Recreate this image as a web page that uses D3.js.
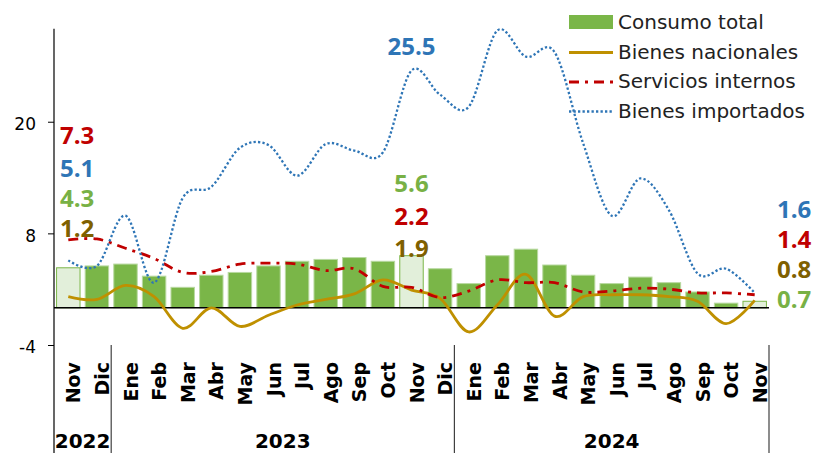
<!DOCTYPE html>
<html lang="es">
<head>
<meta charset="utf-8">
<title>Consumo privado</title>
<script src="https://d3js.org/d3.v7.min.js"></script>
<style>
  body { margin: 0; background: #fff; }
  svg { display: block; font-family: "DejaVu Sans", sans-serif; }
</style>
</head>
<body>
<div id="chart"></div>
<script>
// categories
const months = ["Nov","Dic","Ene","Feb","Mar","Abr","May","Jun","Jul","Ago","Sep","Oct",
                "Nov","Dic","Ene","Feb","Mar","Abr","May","Jun","Jul","Ago","Sep","Oct","Nov"];
const yearLabels = ["2022", "2023", "2024"];
const yearFirst = [0, 2, 14];          // first month index of each year
const yTicks = [-4, 8, 20];

// series values
const consumo    = [4.3,4.5,4.7,3.4,2.2,3.5,3.8,4.5,5.0,5.2,5.4,5.0,5.6,4.2,2.6,5.6,6.3,4.6,3.5,2.6,3.3,2.7,1.7,0.5,0.7];
const nacionales = [1.2,0.9,2.4,1.2,-2.2,0.0,-2.0,-0.8,0.3,0.9,1.5,3.0,1.9,1.0,-2.6,0.3,3.6,-0.9,1.2,1.4,1.4,1.2,0.7,-1.7,0.8];
const servicios  = [7.3,7.4,6.4,5.3,3.8,3.9,4.7,4.8,4.7,4.0,4.2,2.3,2.2,1.1,1.8,3.0,2.7,2.7,1.7,1.8,2.1,2.0,1.6,1.6,1.4];
const importados = [5.1,4.5,9.9,2.7,11.8,13.0,17.2,17.5,14.2,17.6,16.9,16.7,25.5,22.9,21.6,29.8,27.0,27.5,17.7,9.9,13.9,10.5,3.7,4.2,1.6];
const highlight = [0, 12, 24];         // months drawn with pale bars and labelled

const W = 813, H = 453;
const mLeft = 54, mRight = 769, mTop = 28.7, mBottom = 345;

const svg = d3.select("#chart").append("svg")
  .attr("width", W).attr("height", H);

const x = d3.scaleBand()
  .domain(d3.range(months.length))
  .range([mLeft, mRight])
  .paddingInner(0.18)
  .paddingOuter(0.09);
const y = d3.scaleLinear().domain([-4, 30]).range([mBottom, mTop]);
const step = x.step();
const cx = i => x(i) + x.bandwidth() / 2;

const green = "#7ab648", gold = "#bf9000", red = "#c00000", blue = "#2e75b6";

// bars
svg.append("g").selectAll("rect")
  .data(consumo)
  .join("rect")
  .attr("x", (d, i) => x(i))
  .attr("width", x.bandwidth())
  .attr("y", d => y(Math.max(d, 0)))
  .attr("height", d => Math.abs(y(d) - y(0)))
  .attr("fill", (d, i) => highlight.includes(i) ? "#e2efda" : green)
  .attr("stroke", (d, i) => highlight.includes(i) ? green : "#b9d9a1")
  .attr("stroke-width", 1);

// zero line
svg.append("line")
  .attr("x1", mLeft).attr("x2", mRight)
  .attr("y1", y(0)).attr("y2", y(0))
  .attr("stroke", "#000").attr("stroke-width", 1.4);

// lines
const line = d3.line()
  .x((d, i) => cx(i))
  .y(d => y(d))
  .curve(d3.curveCardinal.tension(0));

svg.append("path").datum(nacionales)
  .attr("d", line).attr("fill", "none")
  .attr("stroke", gold).attr("stroke-width", 2.8);

svg.append("path").datum(servicios)
  .attr("d", line).attr("fill", "none")
  .attr("stroke", red).attr("stroke-width", 2.8)
  .attr("stroke-dasharray", "10,6,3,6");

svg.append("path").datum(importados)
  .attr("d", line).attr("fill", "none")
  .attr("stroke", blue).attr("stroke-width", 2.3)
  .attr("stroke-dasharray", "2.3,2.2");

// y axis (plain hyphen for negatives, as in the original)
const yAxis = d3.axisLeft(y).tickValues(yTicks).tickSize(6).tickSizeOuter(0)
  .tickFormat(d => String(d));
const gy = svg.append("g").attr("transform", `translate(${mLeft},0)`).call(yAxis);
gy.select(".domain").remove();
gy.selectAll(".tick line").attr("stroke", "#000");
gy.selectAll(".tick text")
  .attr("x", -18).attr("dy", "0.45em")
  .attr("font-family", "DejaVu Sans").attr("font-size", 17).attr("fill", "#000");

svg.append("line")
  .attr("x1", mLeft).attr("x2", mLeft)
  .attr("y1", mTop).attr("y2", H)
  .attr("stroke", "#000").attr("stroke-width", 1.2);

// month labels
svg.append("g").selectAll("text")
  .data(months)
  .join("text")
  .attr("transform", (d, i) => `translate(${cx(i) + 12},362) rotate(-90)`)
  .attr("text-anchor", "end")
  .attr("font-weight", "bold")
  .attr("font-size", 19)
  .text(d => d);

// year groups
const bounds = yearFirst.map(i => cx(i) - step / 2).concat([mRight]);
svg.append("g").selectAll("line")
  .data(bounds.slice(1))
  .join("line")
  .attr("x1", d => d).attr("x2", d => d)
  .attr("y1", mBottom).attr("y2", H)
  .attr("stroke", "#404040").attr("stroke-width", 1.2);

svg.append("g").selectAll("text")
  .data(yearLabels)
  .join("text")
  .attr("x", (d, i) => (bounds[i] + bounds[i + 1]) / 2)
  .attr("y", 448)
  .attr("text-anchor", "middle")
  .attr("font-weight", "bold")
  .attr("font-size", 20)
  .text(d => d);

// value labels
const labelColor = { consumo: "#78b145", nacionales: "#7f6000", servicios: red, importados: blue };
const values = { consumo, nacionales, servicios, importados };
const fmt = d3.format(".1f");
const labelStacks = [
  { i: 0,  x: 60,  anchor: "start",  rows: [["servicios", 144], ["importados", 177], ["consumo", 207], ["nacionales", 237]] },
  { i: 12, x: cx(12), anchor: "middle", rows: [["importados", 55], ["consumo", 192], ["servicios", 225], ["nacionales", 257]] },
  { i: 24, x: 777, anchor: "start",  rows: [["importados", 218], ["servicios", 248], ["nacionales", 278], ["consumo", 308]] }
];
const lab = svg.append("g")
  .attr("font-family", "'Open Sans', sans-serif")
  .attr("font-weight", "bold")
  .attr("font-size", 24);
labelStacks.forEach(s => {
  s.rows.forEach(([key, by]) => {
    lab.append("text")
      .attr("x", s.x).attr("y", by)
      .attr("text-anchor", s.anchor)
      .attr("fill", labelColor[key])
      .text(fmt(values[key][s.i]));
  });
});

// legend
const legend = [
  { name: "Consumo total", type: "rect" },
  { name: "Bienes nacionales", type: "line", color: gold, width: 2.8, dash: null },
  { name: "Servicios internos", type: "line", color: red, width: 2.8, dash: "10,6,3,6" },
  { name: "Bienes importados", type: "line", color: blue, width: 2.3, dash: "2.3,2.2" }
];
const lg = svg.append("g");
legend.forEach((d, k) => {
  const by = 29 + k * 29.5;
  if (d.type === "rect") {
    lg.append("rect").attr("x", 569).attr("y", by - 14).attr("width", 44).attr("height", 14)
      .attr("fill", green);
  } else {
    lg.append("line").attr("x1", 569).attr("x2", 613).attr("y1", by - 6).attr("y2", by - 6)
      .attr("stroke", d.color).attr("stroke-width", d.width)
      .attr("stroke-dasharray", d.dash);
  }
  lg.append("text").attr("x", 618).attr("y", by)
    .attr("font-size", 20).attr("fill", "#222")
    .text(d.name);
});
</script>
</body>
</html>
